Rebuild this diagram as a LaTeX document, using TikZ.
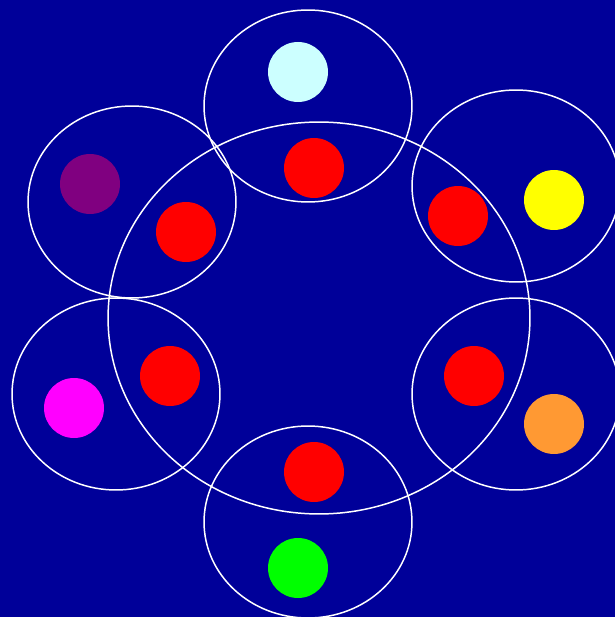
\documentclass[tikz,border=0pt]{standalone}
\usepackage{xcolor}
\usepackage{tikz}
\usetikzlibrary{shapes.geometric}
\definecolor{deep}{HTML}{000099}
\definecolor{ice}{HTML}{CCFFFF}
\definecolor{plum}{HTML}{800080}
\definecolor{tang}{HTML}{FF9933}
\definecolor{hot}{HTML}{FF0000}
\definecolor{lemon}{HTML}{FFFF00}
\definecolor{fuchsia}{HTML}{FF00FF}
\definecolor{lime}{HTML}{00FF00}
\tikzset{
  ring/.style={ellipse,draw=white,line width=0.85pt,inner sep=0pt,minimum width=4.16cm,minimum height=3.84cm},
  bigring/.style={ring,minimum width=8.44cm,minimum height=7.84cm},
  dot/.style={circle,fill=#1,inner sep=0pt,minimum size=1.2cm},
}

\begin{document}
\begin{tikzpicture}[x=0.02cm,y=-0.02cm]
    \fill[deep] (0,0) rectangle (615,617);
    \useasboundingbox (0,0) rectangle (615,617);
    % rings
    \node[bigring] (hub) at (319,318) {};
    \node[ring] (top) at (308,106) {};
    \node[ring] (ul) at (132,202) {};
    \node[ring] (ur) at (516,186) {};
    \node[ring] (ll) at (116,394) {};
    \node[ring] (lr) at (516,394) {};
    \node[ring] (bot) at (308,522) {};
    % dots
    \node[dot=ice] (topo) at (298,72) {};
    \node[dot=hot] (topi) at (314,168) {};
    \node[dot=plum] (ulo) at (90,184) {};
    \node[dot=hot] (uli) at (186,232) {};
    \node[dot=hot] (uri) at (458,216) {};
    \node[dot=lemon] (uro) at (554,200) {};
    \node[dot=hot] (lli) at (170,376) {};
    \node[dot=fuchsia] (llo) at (74,408) {};
    \node[dot=hot] (lri) at (474,376) {};
    \node[dot=tang] (lro) at (554,424) {};
    \node[dot=hot] (boti) at (314,472) {};
    \node[dot=lime] (boto) at (298,568) {};
  \end{tikzpicture}
\end{document}
